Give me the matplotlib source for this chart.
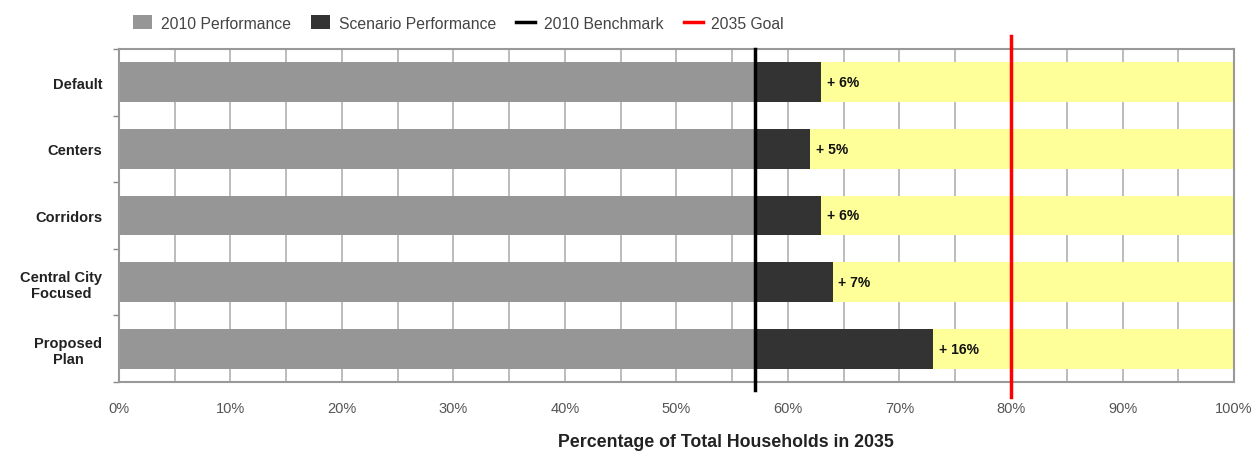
import matplotlib
matplotlib.use("Agg")
import matplotlib.pyplot as plt
from matplotlib.patches import Patch
from matplotlib.lines import Line2D
from matplotlib.ticker import MultipleLocator, FuncFormatter

plt.rcParams['font.family'] = ['Liberation Sans', 'DejaVu Sans']

categories = ["Default", "Centers", "Corridors", "Central City\nFocused", "Proposed\nPlan"]
benchmark_2010 = 57
increments = [6, 5, 6, 7, 16]
goal_2035 = 80
axis_max = 100

scenario = [benchmark_2010 + d for d in increments]

fig = plt.figure(figsize=(12.56, 4.52), dpi=100)
ax = fig.add_axes([0.0947, 0.1527, 0.8878, 0.7367])

ypos = list(range(len(categories)))
bar_h = 0.6

c_base = "#969696"
c_scen = "#333333"
c_rest = "#ffff99"

# remaining distance to 100% (yellow), scenario gain (dark), 2010 baseline (gray)
ax.barh(ypos, [axis_max - s for s in scenario], left=scenario, height=bar_h,
        color=c_rest, zorder=2)
ax.barh(ypos, increments, left=benchmark_2010, height=bar_h, color=c_scen, zorder=2)
ax.barh(ypos, [benchmark_2010] * len(categories), height=bar_h, color=c_base, zorder=2)

for y, s, d in zip(ypos, scenario, increments):
    ax.text(s + 0.5, y, f"+ {d}%", va="center", ha="left", fontsize=10,
            fontweight="bold", color="#111111", zorder=4)

ax.set_xlim(0, axis_max)
ax.set_ylim(len(categories) - 0.5, -0.5)

# reference lines
ax.plot([benchmark_2010, benchmark_2010], [len(categories) - 0.5 + 0.12, -0.5],
        color="black", lw=2.5, zorder=5, clip_on=False)
ax.plot([goal_2035, goal_2035], [len(categories) - 0.5 + 0.22, -0.5 - 0.2],
        color="red", lw=2.5, zorder=5, clip_on=False)

ax.xaxis.set_major_locator(MultipleLocator(10))
ax.xaxis.set_minor_locator(MultipleLocator(5))
ax.xaxis.set_major_formatter(FuncFormatter(lambda v, p: f"{int(v)}%"))
ax.grid(axis="x", which="both", color="#b0b0b0", lw=1.2, zorder=0)
ax.set_axisbelow(True)

ax.set_yticks([y - 0.5 for y in ypos] + [len(categories) - 0.5])
ax.set_yticklabels([])
ax.set_yticks(ypos, minor=True)
ax.set_yticklabels(categories, minor=True, fontsize=10.5, fontweight="bold",
                   color="#222222", ha="right", multialignment="center")
ax.tick_params(axis="y", which="minor", length=0, pad=12)
ax.tick_params(axis="y", which="major", length=4, color="#888888", width=1)
ax.tick_params(axis="x", which="both", length=0, pad=14, labelsize=10.5,
               labelcolor="#555555")

for side in ["top", "right", "bottom", "left"]:
    ax.spines[side].set_color("#999999")
    ax.spines[side].set_linewidth(1.5)

fig.text(0.578, 0.022, "Percentage of Total Households in 2035", fontsize=12.8,
         fontweight="bold", color="#222222", ha="center", va="center")

handles = [
    Patch(facecolor=c_base, edgecolor="none", label="2010 Performance"),
    Patch(facecolor=c_scen, edgecolor="none", label="Scenario Performance"),
    Line2D([0], [0], color="black", lw=2.5, label="2010 Benchmark"),
    Line2D([0], [0], color="red", lw=2.5, label="2035 Goal"),
]
fig.legend(handles=handles, loc="upper left", bbox_to_anchor=(0.095, 0.995),
           ncol=4, frameon=False, fontsize=11.3, handlelength=1.2,
           handleheight=1.0, columnspacing=1.3, handletextpad=0.55,
           labelcolor="#444444")

fig.savefig("out.png", dpi=100)
